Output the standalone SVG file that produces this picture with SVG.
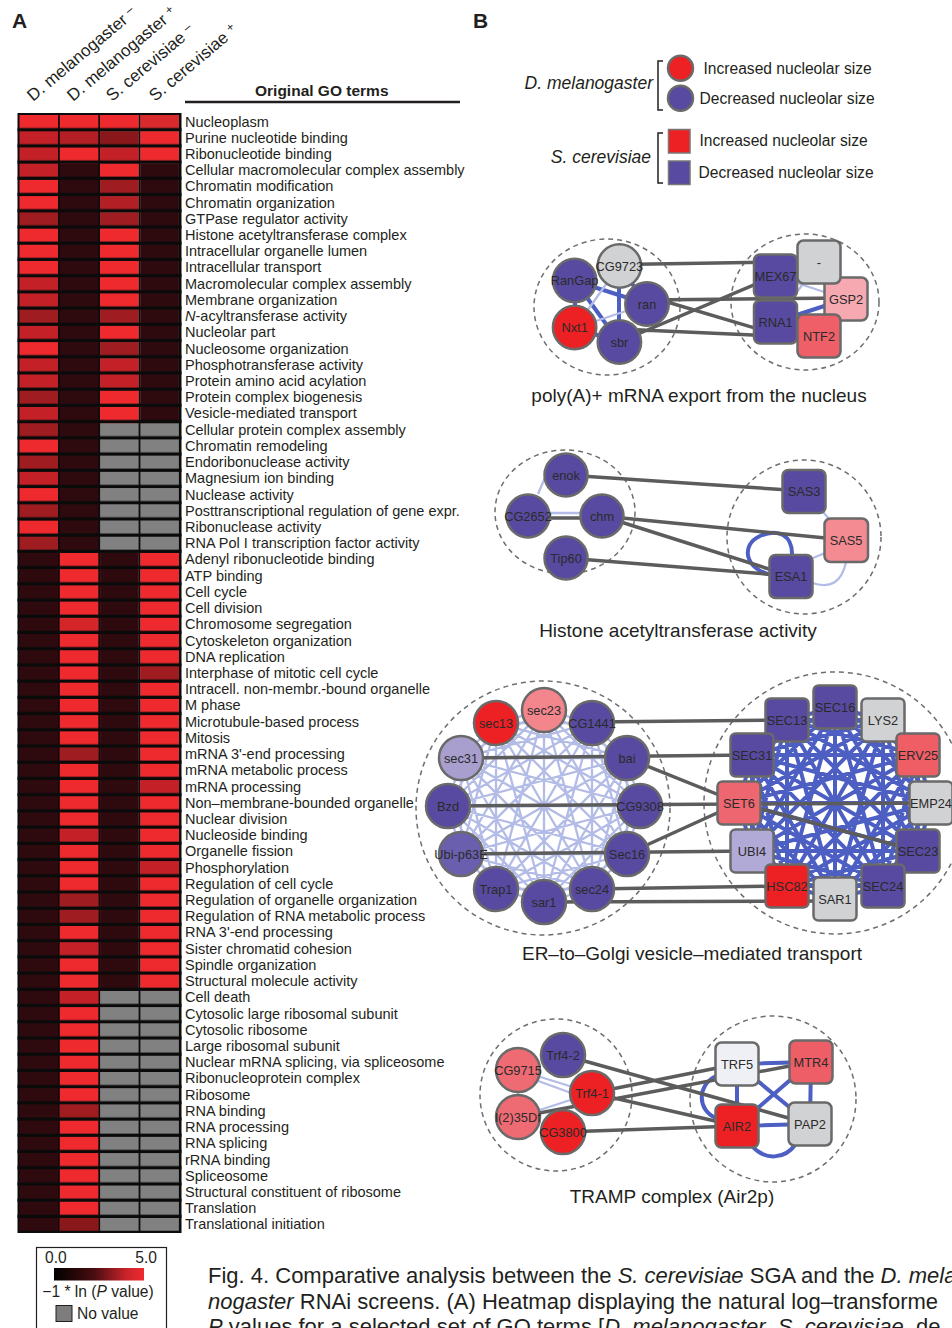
<svg xmlns="http://www.w3.org/2000/svg" width="952" height="1328" viewBox="0 0 952 1328">
<defs>
<style>
text{font-family:"Liberation Sans",Arial,Helvetica,sans-serif;fill:#231f20}
.lab{font-size:14.5px}
.b{fill:#ee2a2f}.c{fill:#d8292d}.e{fill:#d42529}.m{fill:#c32127}.n{fill:#b21f24}.d{fill:#9f1c20}.x{fill:#8a181b}.k{fill:#2e0a0e}.g{fill:#818181}
.nd{stroke:#6a6a6a;stroke-width:2.5}
.bl{fill:#574aa0}.rd{fill:#ed2024}.gy{fill:#d1d2d4}.pk{fill:#f6a9b0}.sr{fill:#ef5f68}.lv{fill:#a89fcf}
.nt{font-size:12.8px;text-anchor:middle;fill:#2a2a2a}
.ge{stroke:#5c5c5c;stroke-width:3.5;fill:none;stroke-linecap:round}
.be{stroke:#4d5fc2;stroke-width:4;fill:none}
.le{stroke:#b3bce6;stroke-width:2.3;fill:none}
.dash{fill:none;stroke:#6e6e6e;stroke-width:1.5;stroke-dasharray:5 4}
.cap{font-size:19px;text-anchor:middle}
.hd{font-size:17px}
.lg{font-size:15.6px}
.sp{font-size:17.5px;font-style:italic;text-anchor:end}
.fc{font-size:22px}
</style>
<pattern id="gap" patternUnits="userSpaceOnUse" x="0" y="115" width="200" height="16.22"><rect x="0" y="13" width="200" height="3.22" fill="#0a0a0a"/></pattern>
<linearGradient id="grad" x1="0" y1="0" x2="1" y2="0"><stop offset="0" stop-color="#000"/><stop offset="0.45" stop-color="#4a0d10"/><stop offset="0.8" stop-color="#c8232a"/><stop offset="1" stop-color="#ef2b30"/></linearGradient>
</defs>
<rect width="952" height="1328" fill="#fff"/>

<!-- Panel A header -->
<text x="12" y="28" font-size="21" font-weight="bold">A</text>
<text x="473" y="28" font-size="21" font-weight="bold">B</text>
<g id="col-headers">
<text class="hd" x="33" y="102" transform="rotate(-40 33 102)">D. melanogaster <tspan font-size="12" dy="-5">–</tspan></text>
<text class="hd" x="73" y="102" transform="rotate(-40 73 102)">D. melanogaster <tspan font-size="12" dy="-5">+</tspan></text>
<text class="hd" x="112" y="102" transform="rotate(-40 112 102)">S. cerevisiae <tspan font-size="12" dy="-5">–</tspan></text>
<text class="hd" x="155" y="102" transform="rotate(-40 155 102)">S. cerevisiae <tspan font-size="12" dy="-5">+</tspan></text>
</g>
<text x="255" y="96" font-size="15.5" font-weight="bold">Original GO terms</text>
<line x1="185" y1="102" x2="460" y2="102" stroke="#231f20" stroke-width="2.7"/>

<!-- Heatmap -->
<g id="heatmap">
<rect x="17.5" y="113" width="164" height="1120" fill="#0c0c0c"/>
<g transform="translate(19.5 0)">
<rect y="115" width="38.5" height="1116" class="k"/>
<rect y="115" width="38.5" height="16.22" class="b"/>
<rect y="131.22" width="38.5" height="48.66" class="m"/>
<rect y="179.88" width="38.5" height="32.44" class="b"/>
<rect y="212.32" width="38.5" height="16.22" class="d"/>
<rect y="228.54" width="38.5" height="48.66" class="b"/>
<rect y="277.2" width="38.5" height="32.44" class="m"/>
<rect y="309.64" width="38.5" height="16.22" class="d"/>
<rect y="325.86" width="38.5" height="16.22" class="m"/>
<rect y="342.08" width="38.5" height="16.22" class="b"/>
<rect y="358.3" width="38.5" height="32.44" class="m"/>
<rect y="390.74" width="38.5" height="16.22" class="d"/>
<rect y="406.96" width="38.5" height="16.22" class="m"/>
<rect y="423.18" width="38.5" height="16.22" class="d"/>
<rect y="439.4" width="38.5" height="16.22" class="b"/>
<rect y="455.62" width="38.5" height="16.22" class="d"/>
<rect y="471.84" width="38.5" height="16.22" class="m"/>
<rect y="488.06" width="38.5" height="16.22" class="b"/>
<rect y="504.28" width="38.5" height="16.22" class="d"/>
<rect y="520.5" width="38.5" height="16.22" class="b"/>
<rect y="536.72" width="38.5" height="16.22" class="d"/>
</g>
<g transform="translate(59.8 0)">
<rect y="115" width="38.5" height="1116" class="k"/>
<rect y="115" width="38.5" height="16.22" class="b"/>
<rect y="131.22" width="38.5" height="16.22" class="n"/>
<rect y="147.44" width="38.5" height="16.22" class="b"/>
<rect y="552.94" width="38.5" height="678.02" class="b"/>
<rect y="617.82" width="38.5" height="16.22" class="e"/>
<rect y="747.58" width="38.5" height="16.22" class="d"/>
<rect y="828.68" width="38.5" height="16.22" class="m"/>
<rect y="893.56" width="38.5" height="32.44" class="d"/>
<rect y="942.22" width="38.5" height="16.22" class="m"/>
<rect y="990.88" width="38.5" height="16.22" class="m"/>
<rect y="1104.42" width="38.5" height="16.22" class="d"/>
<rect y="1217.96" width="38.5" height="13" class="x"/>
</g>
<g transform="translate(100.1 0)">
<rect y="115" width="38.5" height="1116" class="g"/>
<rect y="115" width="38.5" height="16.22" class="b"/>
<rect y="131.22" width="38.5" height="16.22" class="x"/>
<rect y="147.44" width="38.5" height="16.22" class="m"/>
<rect y="163.66" width="38.5" height="16.22" class="b"/>
<rect y="179.88" width="38.5" height="16.22" class="d"/>
<rect y="196.1" width="38.5" height="16.22" class="n"/>
<rect y="212.32" width="38.5" height="16.22" class="d"/>
<rect y="228.54" width="38.5" height="81.1" class="b"/>
<rect y="309.64" width="38.5" height="16.22" class="d"/>
<rect y="325.86" width="38.5" height="16.22" class="b"/>
<rect y="342.08" width="38.5" height="16.22" class="d"/>
<rect y="358.3" width="38.5" height="32.44" class="m"/>
<rect y="390.74" width="38.5" height="32.44" class="b"/>
<rect y="552.94" width="38.5" height="437.94" class="k"/>
</g>
<g transform="translate(140.4 0)">
<rect y="115" width="38.5" height="1116" class="g"/>
<rect y="115" width="38.5" height="16.22" class="c"/>
<rect y="131.22" width="38.5" height="32.44" class="b"/>
<rect y="163.66" width="38.5" height="259.52" class="k"/>
<rect y="552.94" width="38.5" height="437.94" class="b"/>
<rect y="666.48" width="38.5" height="16.22" class="d"/>
<rect y="780.02" width="38.5" height="16.22" class="m"/>
<rect y="861.12" width="38.5" height="16.22" class="m"/>
</g>
<rect x="17.5" y="115" width="164" height="1116" fill="url(#gap)"/>
</g>

<g id="go-labels">
<text class="lab" x="185" y="126.5"><tspan x="185">Nucleoplasm</tspan><tspan x="185" dy="16.22">Purine nucleotide binding</tspan><tspan x="185" dy="16.22">Ribonucleotide binding</tspan><tspan x="185" dy="16.22">Cellular macromolecular complex assembly</tspan><tspan x="185" dy="16.22">Chromatin modification</tspan><tspan x="185" dy="16.22">Chromatin organization</tspan><tspan x="185" dy="16.22">GTPase regulator activity</tspan><tspan x="185" dy="16.22">Histone acetyltransferase complex</tspan><tspan x="185" dy="16.22">Intracellular organelle lumen</tspan><tspan x="185" dy="16.22">Intracellular transport</tspan><tspan x="185" dy="16.22">Macromolecular complex assembly</tspan><tspan x="185" dy="16.22">Membrane organization</tspan><tspan x="185" dy="16.22" font-style="italic">N</tspan><tspan>-acyltransferase activity</tspan><tspan x="185" dy="16.22">Nucleolar part</tspan><tspan x="185" dy="16.22">Nucleosome organization</tspan><tspan x="185" dy="16.22">Phosphotransferase activity</tspan><tspan x="185" dy="16.22">Protein amino acid acylation</tspan><tspan x="185" dy="16.22">Protein complex biogenesis</tspan><tspan x="185" dy="16.22">Vesicle-mediated transport</tspan><tspan x="185" dy="16.22">Cellular protein complex assembly</tspan><tspan x="185" dy="16.22">Chromatin remodeling</tspan><tspan x="185" dy="16.22">Endoribonuclease activity</tspan><tspan x="185" dy="16.22">Magnesium ion binding</tspan><tspan x="185" dy="16.22">Nuclease activity</tspan><tspan x="185" dy="16.22">Posttranscriptional regulation of gene expr.</tspan><tspan x="185" dy="16.22">Ribonuclease activity</tspan><tspan x="185" dy="16.22">RNA Pol I transcription factor activity</tspan><tspan x="185" dy="16.22">Adenyl ribonucleotide binding</tspan><tspan x="185" dy="16.22">ATP binding</tspan><tspan x="185" dy="16.22">Cell cycle</tspan><tspan x="185" dy="16.22">Cell division</tspan><tspan x="185" dy="16.22">Chromosome segregation</tspan><tspan x="185" dy="16.22">Cytoskeleton organization</tspan><tspan x="185" dy="16.22">DNA replication</tspan><tspan x="185" dy="16.22">Interphase of mitotic cell cycle</tspan><tspan x="185" dy="16.22">Intracell. non-membr.-bound organelle</tspan><tspan x="185" dy="16.22">M phase</tspan><tspan x="185" dy="16.22">Microtubule-based process</tspan><tspan x="185" dy="16.22">Mitosis</tspan><tspan x="185" dy="16.22">mRNA 3'-end processing</tspan><tspan x="185" dy="16.22">mRNA metabolic process</tspan><tspan x="185" dy="16.22">mRNA processing</tspan><tspan x="185" dy="16.22">Non–membrane-bounded organelle</tspan><tspan x="185" dy="16.22">Nuclear division</tspan><tspan x="185" dy="16.22">Nucleoside binding</tspan><tspan x="185" dy="16.22">Organelle fission</tspan><tspan x="185" dy="16.22">Phosphorylation</tspan><tspan x="185" dy="16.22">Regulation of cell cycle</tspan><tspan x="185" dy="16.22">Regulation of organelle organization</tspan><tspan x="185" dy="16.22">Regulation of RNA metabolic process</tspan><tspan x="185" dy="16.22">RNA 3'-end processing</tspan><tspan x="185" dy="16.22">Sister chromatid cohesion</tspan><tspan x="185" dy="16.22">Spindle organization</tspan><tspan x="185" dy="16.22">Structural molecule activity</tspan><tspan x="185" dy="16.22">Cell death</tspan><tspan x="185" dy="16.22">Cytosolic large ribosomal subunit</tspan><tspan x="185" dy="16.22">Cytosolic ribosome</tspan><tspan x="185" dy="16.22">Large ribosomal subunit</tspan><tspan x="185" dy="16.22">Nuclear mRNA splicing, via spliceosome</tspan><tspan x="185" dy="16.22">Ribonucleoprotein complex</tspan><tspan x="185" dy="16.22">Ribosome</tspan><tspan x="185" dy="16.22">RNA binding</tspan><tspan x="185" dy="16.22">RNA processing</tspan><tspan x="185" dy="16.22">RNA splicing</tspan><tspan x="185" dy="16.22">rRNA binding</tspan><tspan x="185" dy="16.22">Spliceosome</tspan><tspan x="185" dy="16.22">Structural constituent of ribosome</tspan><tspan x="185" dy="16.22">Translation</tspan><tspan x="185" dy="16.22">Translational initiation</tspan></text>
</g>

<!-- Heatmap legend -->
<g id="heat-legend">
<rect x="36.5" y="1247.5" width="130" height="95" fill="#fff" stroke="#231f20" stroke-width="1.2"/>
<text class="lg" x="45" y="1263">0.0</text>
<text class="lg" x="157" y="1263" text-anchor="end">5.0</text>
<rect x="54" y="1268" width="90" height="12.5" fill="url(#grad)"/>
<text class="lg" x="98" y="1297" text-anchor="middle">−1 * ln (<tspan font-style="italic">P</tspan> value)</text>
<rect x="56" y="1305.5" width="16" height="16" fill="#7d7d7d" stroke="#231f20" stroke-width="1"/>
<text class="lg" x="77" y="1318.5">No value</text>
</g>

<!-- Caption -->
<g id="caption">
<text class="fc" x="208" y="1283">Fig. 4. Comparative analysis between the <tspan font-style="italic">S. cerevisiae</tspan> SGA and the <tspan font-style="italic">D. mela</tspan></text>
<text class="fc" x="208" y="1308.5"><tspan font-style="italic">nogaster</tspan> RNAi screens. (A) Heatmap displaying the natural log–transforme</text>
<text class="fc" x="208" y="1334"><tspan font-style="italic">P</tspan> values for a selected set of GO terms [<tspan font-style="italic">D. melanogaster</tspan>, <tspan font-style="italic">S. cerevisiae</tspan>, de</text>
</g>

<!-- Panel B legend -->
<g id="b-legend">
<text class="sp" x="653" y="89">D. melanogaster</text>
<path d="M663 61H658V110H663" fill="none" stroke="#231f20" stroke-width="1.5"/>
<circle cx="680.5" cy="68.3" r="12.5" class="rd nd" stroke-width="1.5"/>
<circle cx="680.5" cy="98.3" r="12.5" class="bl nd" stroke-width="1.5"/>
<text class="lg" x="703.5" y="74">Increased nucleolar size</text>
<text class="lg" x="699.5" y="104">Decreased nucleolar size</text>
<text class="sp" x="651" y="162.5">S. cerevisiae</text>
<path d="M663 133H658V183H663" fill="none" stroke="#231f20" stroke-width="1.5"/>
<rect x="668.5" y="129.5" width="21.5" height="23.5" class="rd" stroke="#777" stroke-width="1.5"/>
<rect x="668.5" y="161" width="21.5" height="23.5" class="bl" stroke="#777" stroke-width="1.5"/>
<text class="lg" x="699.5" y="146">Increased nucleolar size</text>
<text class="lg" x="698.5" y="177.5">Decreased nucleolar size</text>
</g>

<!-- Network 1: poly(A)+ mRNA export -->
<g id="net1-frame">
<ellipse cx="607" cy="307" rx="73" ry="68" class="dash"/>
<ellipse cx="805" cy="302" rx="74" ry="68" class="dash"/>
</g>
<g id="net1-edges">
<path class="be" d="M575 281L647 304M575 281L619 342M619 266L619 342M619 266L647 304M575 281L575 328M575 328L619 342"/>
<path class="le" d="M575 328L647 304M619 266L575 328M775 276L846 299M819 262L775 322"/>
<path class="be" d="M775 322L846 299"/>
<path class="ge" d="M620 264.5L775 262M647 300L846 298M647 296L775 334M619 342L775 276M619 329L775 336"/>
</g>
<g id="n-RanGap"><circle cx="574.6" cy="280.5" r="21.7" class="bl nd"/><text class="nt" x="574.6" y="285">RanGap</text></g>
<g id="n-Nxt1"><circle cx="574.6" cy="327.5" r="21.7" class="rd nd"/><text class="nt" x="574.6" y="332">Nxt1</text></g>
<g id="n-ran"><circle cx="647" cy="304" r="21.7" class="bl nd"/><text class="nt" x="647" y="308.5">ran</text></g>
<g id="n-CG9723"><circle cx="619.4" cy="266" r="21.7" class="gy nd"/><text class="nt" x="619.4" y="270.5">CG9723</text></g>
<g id="n-sbr"><circle cx="619.4" cy="342" r="21.7" class="bl nd"/><text class="nt" x="619.4" y="346.5">sbr</text></g>
<g id="n-GSP2"><rect x="824.5" y="277.5" width="43" height="43" rx="6" class="pk nd"/><text class="nt" x="846" y="303.5">GSP2</text></g>
<g id="n-dash"><rect x="797.5" y="240.5" width="43" height="43" rx="6" class="gy nd"/><text class="nt" x="819" y="266.5">-</text></g>
<g id="n-MEX67"><rect x="754" y="254.5" width="43" height="43" rx="6" class="bl nd"/><text class="nt" x="775.5" y="280.5">MEX67</text></g>
<g id="n-RNA1"><rect x="754" y="300.5" width="43" height="43" rx="6" class="bl nd"/><text class="nt" x="775.5" y="326.5">RNA1</text></g>
<g id="n-NTF2"><rect x="797.5" y="314.5" width="43" height="43" rx="6" class="sr nd"/><text class="nt" x="819" y="340.5">NTF2</text></g>
<text class="cap" x="699" y="402">poly(A)+ mRNA export from the nucleus</text>

<!-- Network 2: Histone acetyltransferase -->
<g id="net2-frame">
<ellipse cx="565" cy="512" rx="70" ry="62" class="dash"/>
<circle cx="804" cy="537" r="77" class="dash"/>
</g>
<g id="net2-edges">
<path class="le" d="M552 461L538 494M528 513L602 513M823 512L830 520M813 558L825 553M812 583Q840 592 846 562"/>
<path class="be" d="M772 575C745 570 740 545 760 536C778 528 793 535 792 556"/>
<path class="ge" d="M566 475L804 491M602 516L846 540M602 516L791 576M528 518L602 518M566 558L791 576"/>
</g>
<g id="n-enok"><circle cx="566" cy="475" r="21.5" class="bl nd"/><text class="nt" x="566" y="479.5">enok</text></g>
<g id="n-CG2652"><circle cx="528" cy="516" r="21.5" class="bl nd"/><text class="nt" x="528" y="520.5">CG2652</text></g>
<g id="n-chm"><circle cx="602" cy="516" r="21.5" class="bl nd"/><text class="nt" x="602" y="520.5">chm</text></g>
<g id="n-Tip60"><circle cx="566" cy="558" r="21.5" class="bl nd"/><text class="nt" x="566" y="562.5">Tip60</text></g>
<g id="n-SAS3"><rect x="782.5" y="470" width="43" height="43" rx="6" class="bl nd"/><text class="nt" x="804" y="496">SAS3</text></g>
<g id="n-SAS5"><rect x="824.5" y="518.5" width="43.5" height="43.5" rx="6" fill="#f48b93" class="nd"/><text class="nt" x="846" y="544.5">SAS5</text></g>
<g id="n-ESA1"><rect x="769.5" y="555" width="43" height="43" rx="6" class="bl nd"/><text class="nt" x="791" y="581">ESA1</text></g>
<text class="cap" x="678" y="637">Histone acetyltransferase activity</text>

<!-- Network 3: ER-to-Golgi -->
<g id="net3-frame">
<circle cx="543" cy="808" r="127" class="dash"/>
<circle cx="835" cy="803" r="131" class="dash"/>
</g>
<g id="net3-edges">
<path class="le" d="M544 710L592 723L627 758L640 806L627 854L592 889L544 902L496 889L461 854L448 806L461 758L496 723Z M544 710L627 758L627 854L544 902L461 854L461 758Z M592 723L640 806L592 889L496 889L448 806L496 723Z M544 710L640 806L544 902L448 806Z M592 723L627 854L496 889L461 758Z M627 758L592 889L461 854L496 723Z M544 710L627 854L461 854Z M592 723L592 889L448 806Z M627 758L544 902L461 758Z M640 806L496 889L496 723Z M544 710L592 889L461 758L640 806L461 854L592 723L544 902L496 723L627 854L448 806L627 758L496 889Z M544 710L544 902M592 723L496 889M627 758L461 854M640 806L448 806M627 854L461 758M592 889L496 723"/>
<path class="be" stroke-width="4.3" d="M835 707L883 720L918 755L931 803L918 851L883 886L835 899L787 886L752 851L739 803L752 755L787 720Z M835 707L918 755L918 851L835 899L752 851L752 755Z M883 720L931 803L883 886L787 886L739 803L787 720Z M835 707L931 803L835 899L739 803Z M883 720L918 851L787 886L752 755Z M918 755L883 886L752 851L787 720Z M835 707L918 851L752 851Z M883 720L883 886L739 803Z M918 755L835 899L752 755Z M931 803L787 886L787 720Z M835 707L883 886L752 755L931 803L752 851L883 720L835 899L787 720L918 851L739 803L918 755L787 886Z M835 707L835 899M883 720L787 886M918 755L752 851M931 803L739 803M918 851L752 755M883 886L787 720"/>
<path class="ge" d="M592 722L787 720M461 758L752 755M627 758L739 803M448 806L739 804M627 854L739 803M461 854L752 851M592 889L787 886M544 902L835 901"/>
<path class="ge" stroke-width="2.2" d="M739 804L931 803M739 803L918 851"/>
</g>
<g id="n-sec13"><circle cx="496" cy="723" r="22" class="rd nd"/><text class="nt" x="496" y="727.5">sec13</text></g>
<g id="n-sec23"><circle cx="544" cy="710" r="22" fill="#f3868d" class="nd"/><text class="nt" x="544" y="714.5">sec23</text></g>
<g id="n-CG1441"><circle cx="592" cy="723" r="22" class="bl nd"/><text class="nt" x="592" y="727.5">CG1441</text></g>
<g id="n-sec31"><circle cx="461" cy="758" r="22" class="lv nd"/><text class="nt" x="461" y="762.5">sec31</text></g>
<g id="n-bai"><circle cx="627" cy="758" r="22" class="bl nd"/><text class="nt" x="627" y="762.5">bai</text></g>
<g id="n-Bzd"><circle cx="448" cy="806" r="22" class="bl nd"/><text class="nt" x="448" y="810.5">Bzd</text></g>
<g id="n-CG9308"><circle cx="640" cy="806" r="22" class="bl nd"/><text class="nt" x="640" y="810.5">CG9308</text></g>
<g id="n-Ubi-p63E"><circle cx="461" cy="854" r="22" fill="#6a5fae" class="nd"/><text class="nt" x="461" y="858.5">Ubi-p63E</text></g>
<g id="n-Sec16"><circle cx="627" cy="854" r="22" class="bl nd"/><text class="nt" x="627" y="858.5">Sec16</text></g>
<g id="n-Trap1"><circle cx="496" cy="889" r="22" class="bl nd"/><text class="nt" x="496" y="893.5">Trap1</text></g>
<g id="n-sec24"><circle cx="592" cy="889" r="22" class="bl nd"/><text class="nt" x="592" y="893.5">sec24</text></g>
<g id="n-sar1"><circle cx="544" cy="902" r="22" class="bl nd"/><text class="nt" x="544" y="906.5">sar1</text></g>
<g id="n-SEC16"><rect x="813.5" y="685.5" width="43" height="43" rx="5" class="bl nd"/><text class="nt" x="835" y="711.5">SEC16</text></g>
<g id="n-SEC13"><rect x="765.5" y="698.5" width="43" height="43" rx="5" class="bl nd"/><text class="nt" x="787" y="724.5">SEC13</text></g>
<g id="n-LYS2"><rect x="861.5" y="698.5" width="43" height="43" rx="5" class="gy nd"/><text class="nt" x="883" y="724.5">LYS2</text></g>
<g id="n-SEC31"><rect x="730.5" y="733.5" width="43" height="43" rx="5" class="bl nd"/><text class="nt" x="752" y="759.5">SEC31</text></g>
<g id="n-ERV25"><rect x="896.5" y="733.5" width="43" height="43" rx="5" fill="#ef5d65" class="nd"/><text class="nt" x="918" y="759.5">ERV25</text></g>
<g id="n-SET6"><rect x="717.5" y="781.5" width="43" height="43" rx="5" fill="#ee6770" class="nd"/><text class="nt" x="739" y="807.5">SET6</text></g>
<g id="n-EMP24"><rect x="909.5" y="781.5" width="43" height="43" rx="5" class="gy nd"/><text class="nt" x="931" y="807.5">EMP24</text></g>
<g id="n-UBI4"><rect x="730.5" y="829.5" width="43" height="43" rx="5" fill="#b1a9d6" class="nd"/><text class="nt" x="752" y="855.5">UBI4</text></g>
<g id="n-SEC23"><rect x="896.5" y="829.5" width="43" height="43" rx="5" class="bl nd"/><text class="nt" x="918" y="855.5">SEC23</text></g>
<g id="n-HSC82"><rect x="765.5" y="864.5" width="43" height="43" rx="5" class="rd nd"/><text class="nt" x="787" y="890.5">HSC82</text></g>
<g id="n-SEC24"><rect x="861.5" y="864.5" width="43" height="43" rx="5" class="bl nd"/><text class="nt" x="883" y="890.5">SEC24</text></g>
<g id="n-SAR1"><rect x="813.5" y="877.5" width="43" height="43" rx="5" class="gy nd"/><text class="nt" x="835" y="903.5">SAR1</text></g>
<text class="cap" x="692" y="960">ER–to–Golgi vesicle–mediated transport</text>

<!-- Network 4: TRAMP -->
<g id="net4-frame">
<circle cx="556" cy="1095" r="76" class="dash"/>
<circle cx="773" cy="1099" r="83" class="dash"/>
</g>
<g id="net4-edges">
<path class="le" d="M518 1070L592 1093M518 1070L518 1117M518 1117L592 1093M530 1078L585 1098"/>
<path class="be" d="M737 1064L811 1062M737 1064L737 1126M811 1062L810 1124M737 1126L810 1124M737 1064L810 1124M811 1062L737 1126M716 1076C697 1085 697 1110 716 1118M752 1146C765 1161 785 1159 795 1145"/>
<path class="ge" d="M563 1055L810 1124M592 1093L737 1064M592 1093L737 1126M518 1117L811 1062M563 1132L737 1126"/>
</g>
<g id="n-CG9715"><circle cx="518" cy="1070" r="22" fill="#ef6b73" class="nd"/><text class="nt" x="518" y="1074.5">CG9715</text></g>
<g id="n-Trf4-2"><circle cx="563" cy="1055" r="22" class="bl nd"/><text class="nt" x="563" y="1059.5">Trf4-2</text></g>
<g id="n-l235Df"><circle cx="518" cy="1117" r="22" fill="#ef6b73" class="nd"/><text class="nt" x="518" y="1121.5">l(2)35Df</text></g>
<g id="n-Trf4-1"><circle cx="592" cy="1093" r="22" class="rd nd"/><text class="nt" x="592" y="1097.5">Trf4-1</text></g>
<g id="n-CG3800"><circle cx="563" cy="1132" r="22" class="rd nd"/><text class="nt" x="563" y="1136.5">CG3800</text></g>
<g id="n-TRF5"><rect x="715.5" y="1042.5" width="43" height="43" rx="6" fill="#eff0f5" class="nd"/><text class="nt" x="737" y="1068.5">TRF5</text></g>
<g id="n-MTR4"><rect x="789.5" y="1040.5" width="43" height="43" rx="6" fill="#ee5e66" class="nd"/><text class="nt" x="811" y="1066.5">MTR4</text></g>
<g id="n-AIR2"><rect x="715.5" y="1104.5" width="43" height="43" rx="6" class="rd nd"/><text class="nt" x="737" y="1130.5">AIR2</text></g>
<g id="n-PAP2"><rect x="788.5" y="1102.5" width="43" height="43" rx="6" class="gy nd"/><text class="nt" x="810" y="1128.5">PAP2</text></g>
<text class="cap" x="672" y="1203">TRAMP complex (Air2p)</text>
</svg>
